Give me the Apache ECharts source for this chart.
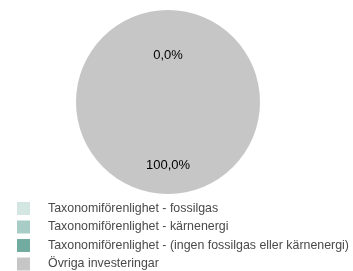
<!DOCTYPE html>
<html>
<head>
<meta charset="utf-8">
<title>Taxonomiförenlighet</title>
<script src="https://cdn.jsdelivr.net/npm/echarts@6/dist/echarts.min.js"></script>
<style>
  html, body { margin: 0; padding: 0; background: #fff; }
  #chart { width: 353px; height: 271px; }
</style>
</head>
<body>
<div id="chart"></div>
<script>
var categories = [
  'Taxonomiförenlighet - fossilgas',
  'Taxonomiförenlighet - kärnenergi',
  'Taxonomiförenlighet - (ingen fossilgas eller kärnenergi)',
  'Övriga investeringar'
];
var values = [0, 0, 0, 100];
var colors = ['#d3e6e2', '#a8cdc6', '#72aba0', '#c6c6c6'];

var chart = echarts.init(document.getElementById('chart'));

// the big slice's label sits lower in the original than the pie's default
var data = categories.map(function (name, i) {
  var item = { name: name, value: values[i], itemStyle: { color: colors[i] } };
  item.label = { offset: values[i] > 50 ? [0, 14] : [0, 2] };
  return item;
});

chart.setOption({
  animation: false,
  legend: {
    orient: 'vertical',
    left: 17,
    top: 202,
    itemWidth: 13,
    itemHeight: 13,
    itemGap: 5.5,
    icon: 'rect',
    textStyle: { fontFamily: 'Liberation Sans, Arial, sans-serif', fontSize: 12.4, color: '#4a4a4a', padding: [0, 0, 0, 13] },
    padding: 0,
    data: categories
  },
  series: [{
    type: 'pie',
    center: [168, 102],
    radius: [0, 92],
    startAngle: 90,
    clockwise: true,
    stillShowZeroSum: true,
    minAngle: 0,
    avoidLabelOverlap: false,
    itemStyle: { borderWidth: 0 },
    label: {
      show: true,
      position: 'inside',
      fontFamily: 'Liberation Sans, Arial, sans-serif',
      fontSize: 13,
      color: '#000',
      formatter: function (p) {
        return p.value.toFixed(1).replace('.', ',') + '%';
      }
    },
    labelLine: { show: false },
    emphasis: { disabled: true },
    data: data
  }]
});
</script>
</body>
</html>
